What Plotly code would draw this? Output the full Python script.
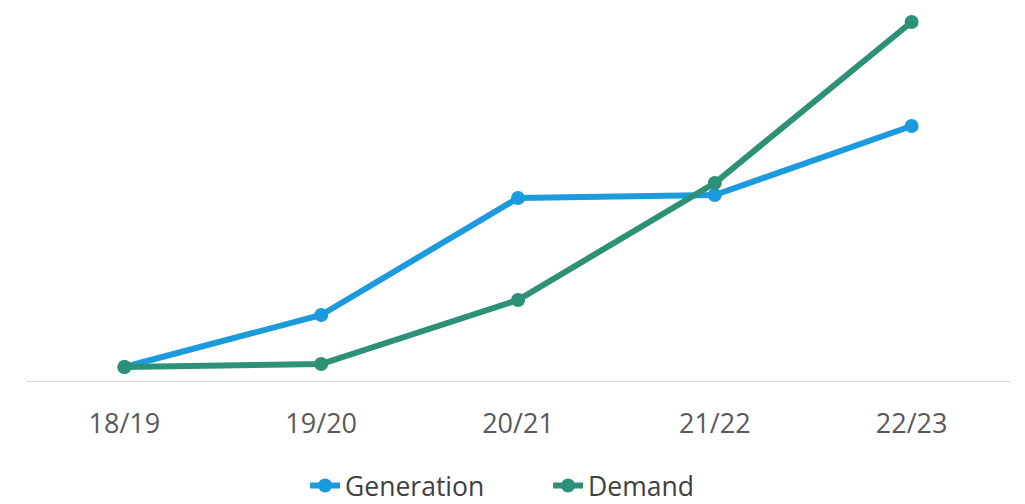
import plotly.graph_objects as go

categories = ["18/19", "19/20", "20/21", "21/22", "22/23"]
generation = [14, 66, 183, 186, 255]
demand = [14, 17, 81, 198, 359]

blue = "#1b9ade"
green = "#2d9178"

fig = go.Figure()
fig.add_trace(go.Scatter(x=categories, y=generation, name="Generation", mode="lines+markers",
                         line=dict(color=blue, width=6), marker=dict(size=14, color=blue)))
fig.add_trace(go.Scatter(x=categories, y=demand, name="Demand", mode="lines+markers",
                         line=dict(color=green, width=6), marker=dict(size=14, color=green)))

fig.update_layout(
    width=1025, height=504,
    margin=dict(l=26, r=15, t=0, b=123, autoexpand=False),
    paper_bgcolor="white", plot_bgcolor="white",
    font=dict(family="Open Sans, sans-serif"),
    xaxis=dict(type="category", range=[-0.5, 4.5], showgrid=False, zeroline=False,
               showline=True, linecolor="#d9d9d9", linewidth=1, ticks="",
               tickfont=dict(size=27, color="#595959"), ticklabelstandoff=19),
    yaxis=dict(range=[0, 381], visible=False, showgrid=False, zeroline=False),
    showlegend=True,
    legend=dict(orientation="h", x=0.2836, xanchor="left", y=-0.275, yanchor="middle",
                font=dict(size=26.5, color="#404040"), entrywidth=198, entrywidthmode="pixels",
                tracegroupgap=0),
)

fig.write_html("out.html", config={"displayModeBar": False},
               post_script="document.body.style.margin='0';")
